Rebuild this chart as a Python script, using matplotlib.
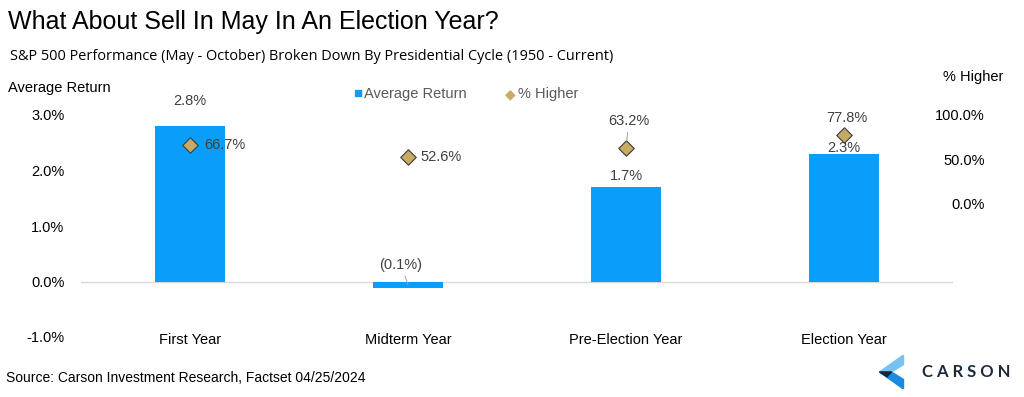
import numpy as np
import matplotlib.pyplot as plt
from matplotlib.patches import Polygon

plt.rcParams['font.family'] = ['Liberation Sans', 'DejaVu Sans']

# 数据
categories = ['First Year', 'Midterm Year', 'Pre-Election Year', 'Election Year']
avg_return = [2.8, -0.11, 1.7, 2.3]          # 平均收益 (%)
pct_higher = [0.667, 0.526, 0.632, 0.778]    # 上涨概率
ret_labels = ['2.8%', '(0.1%)', '1.7%', '2.3%']
hi_labels = ['66.7%', '52.6%', '63.2%', '77.8%']

bar_color = '#0A9EFA'
dia_color = '#C9AA62'
txt_grey = '#404040'

fig = plt.figure(figsize=(10.24, 3.97), dpi=100)
ax = fig.add_axes([81/1024, 60/397, 872/1024, 222/397])
x = np.arange(len(categories))

ax.bar(x, avg_return, width=0.32, color=bar_color, zorder=2)
ax.axhline(0, color='#D9D9D9', lw=1, zorder=1)
ax.set_xlim(-0.5, 3.5)
ax.set_ylim(-1, 3)
ax.set_yticks([-1, 0, 1, 2, 3])
ax.set_yticklabels([f'{v:.1f}%' for v in [-1, 0, 1, 2, 3]], fontsize=10.5)
ax.set_xticks(x)
ax.set_xticklabels(categories, fontsize=10.5)
ax.tick_params(axis='y', length=0, pad=12)
ax.tick_params(axis='x', length=0, pad=-3)
for s in ax.spines.values():
    s.set_visible(False)

# 右轴：上涨概率
ax2 = ax.twinx()
ax2.scatter(x, pct_higher, marker='D', s=62, color=dia_color,
            edgecolor='#3A3A3A', linewidth=0.8, zorder=3)
ax2.set_ylim(-1.5, 1.0)
ax2.set_yticks([0, 0.5, 1.0])
ax2.set_yticklabels(['0.0%', '50.0%', '100.0%'], fontsize=10.5, ha='right')
ax2.tick_params(axis='y', length=0, pad=23)
for s in ax2.spines.values():
    s.set_visible(False)

# 柱子标签（偏移单位：点）
ret_offsets = [18, 14, 8, 4]
for i, (v, lab) in enumerate(zip(avg_return, ret_labels)):
    if v >= 0:
        ax.annotate(lab, (i, v), xytext=(0, ret_offsets[i]), textcoords='offset points',
                    ha='center', va='center', fontsize=10.5, color=txt_grey)
    else:
        ax.annotate(lab, (i, v / 2), xytext=(-5, ret_offsets[i]), textcoords='offset points',
                    ha='center', va='center', fontsize=10.5, color=txt_grey,
                    arrowprops=dict(arrowstyle='-', color='#A0A0A0', lw=0.7,
                                    shrinkA=1, shrinkB=0))

# 菱形标签
hi_offsets = [(10, 0, 'left', False), (9, 0, 'left', False),
              (2, 19, 'center', True), (2, 12, 'center', True)]
for i, (p, lab) in enumerate(zip(pct_higher, hi_labels)):
    dx, dy, ha, leader = hi_offsets[i]
    kw = {}
    if leader:
        kw['arrowprops'] = dict(arrowstyle='-', color='#A0A0A0', lw=0.7,
                                shrinkA=1, shrinkB=5)
    ax2.annotate(lab, (i, p), xytext=(dx, dy), textcoords='offset points',
                 ha=ha, va='center', fontsize=10.5, color=txt_grey,
                 annotation_clip=False, **kw)

# 轴标题
fig.text(8/1024, 1 - 88/397, 'Average Return', fontsize=10.5, va='center')
fig.text(943/1024, 1 - 77/397, '% Higher', fontsize=10.5, va='center')

# 图例
fig.text(358/1024, 1 - 94/397, '■', fontsize=11, color=bar_color, va='center', ha='center')
fig.text(364/1024, 1 - 94/397, 'Average Return', fontsize=10.5, color='#595959', va='center')
fig.text(510/1024, 1 - 94/397, '◆', fontsize=10, color=dia_color, va='center', ha='center')
fig.text(518/1024, 1 - 94/397, '% Higher', fontsize=10.5, color='#595959', va='center')

# 标题
fig.text(8/1024, 1 - 22/397, 'What About Sell In May In An Election Year?',
         fontsize=18, va='center')
fig.text(10/1024, 1 - 56/397,
         'S&P 500 Performance (May - October) Broken Down By Presidential Cycle (1950 - Current)',
         fontsize=10.45, va='center', family='Open Sans')
fig.text(6/1024, 1 - 378/397, 'Source: Carson Investment Research, Factset 04/25/2024',
         fontsize=10, va='center')

# Logo
lg = fig.add_axes([878/1024, 8/397, 30/1024, 34/397])
lg.set_xlim(0, 1)
lg.set_ylim(0, 1)
lg.axis('off')
lg.add_patch(Polygon([[0.05, 0.5], [0.85, 1.0], [0.85, 0.72], [0.45, 0.5]],
                     closed=True, color='#74C3F0'))
lg.add_patch(Polygon([[0.05, 0.5], [0.45, 0.5], [0.85, 0.28], [0.85, 0.0]],
                     closed=True, color='#1A8BE0'))
lg.add_patch(Polygon([[0.05, 0.5], [0.45, 0.5], [0.3, 0.36]],
                     closed=True, color='#14263A'))
fig.text(966/1024, 1 - 372/397, 'C A R S O N', fontsize=12, color='#1C2B3C',
         va='center', ha='center', family='Lato', fontweight='bold')

fig.savefig('out.png', dpi=100)
